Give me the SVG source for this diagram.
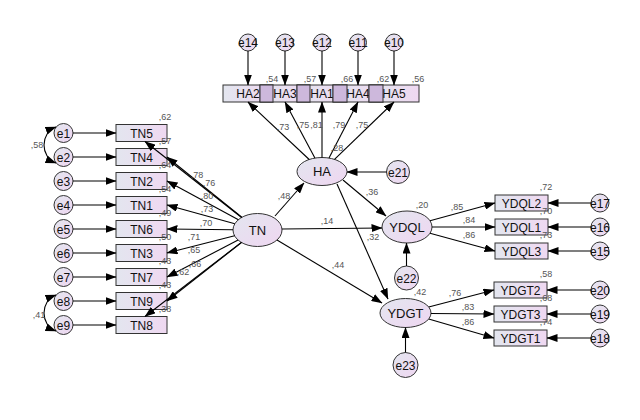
<svg xmlns="http://www.w3.org/2000/svg" width="640" height="420" viewBox="0 0 640 420">
<defs>
<linearGradient id="g" x1="0" y1="0" x2="1" y2="0">
<stop offset="0" stop-color="#e3e6ef"/><stop offset="1" stop-color="#efd8f1"/>
</linearGradient>
<linearGradient id="ge" x1="0" y1="0" x2="1" y2="1">
<stop offset="0" stop-color="#e3e6ef"/><stop offset="1" stop-color="#efd6f1"/>
</linearGradient>
<marker id="ah" markerUnits="userSpaceOnUse" markerWidth="11" markerHeight="8" refX="10.5" refY="4" orient="auto-start-reverse">
<path d="M0,0 L11,4 L0,8 z" fill="#000"/>
</marker>
<style>
.b{fill:url(#g);stroke:#333;stroke-width:1}
.o{fill:#cdb8dc;stroke:#333;stroke-width:1}
.e{fill:url(#ge);stroke:#333;stroke-width:1}
.t{font-family:"Liberation Sans",Arial,sans-serif;font-size:12px;fill:#111;text-anchor:middle}
.tl{font-family:"Liberation Sans",Arial,sans-serif;font-size:13px;fill:#111;text-anchor:middle}
.v{font-family:"Liberation Sans",Arial,sans-serif;font-size:9px;fill:#555;text-anchor:middle}
.c line,.c path{stroke:#000;stroke-width:1.1;fill:none;marker-end:url(#ah)}
.c path.cv{marker-start:url(#ah)}
</style>
</defs>
<rect width="640" height="420" fill="#fff"/>

<!-- TN indicator boxes -->
<g id="TN5"><rect class="b" x="116" y="124.5" width="51" height="17"/><text class="t" x="141.5" y="137.5">TN5</text></g>
<g id="TN4"><rect class="b" x="116" y="148.5" width="51" height="17"/><text class="t" x="141.5" y="161.5">TN4</text></g>
<g id="TN2"><rect class="b" x="116" y="172.5" width="51" height="17"/><text class="t" x="141.5" y="185.5">TN2</text></g>
<g id="TN1"><rect class="b" x="116" y="196.5" width="51" height="17"/><text class="t" x="141.5" y="209.5">TN1</text></g>
<g id="TN6"><rect class="b" x="116" y="220.5" width="51" height="17"/><text class="t" x="141.5" y="233.5">TN6</text></g>
<g id="TN3"><rect class="b" x="116" y="244.5" width="51" height="17"/><text class="t" x="141.5" y="257.5">TN3</text></g>
<g id="TN7"><rect class="b" x="116" y="268.5" width="51" height="17"/><text class="t" x="141.5" y="281.5">TN7</text></g>
<g id="TN9"><rect class="b" x="116" y="292.5" width="51" height="17"/><text class="t" x="141.5" y="305.5">TN9</text></g>
<g id="TN8"><rect class="b" x="116" y="316.5" width="51" height="17"/><text class="t" x="141.5" y="329.5">TN8</text></g>

<!-- left error terms -->
<g id="e1"><circle class="e" cx="63.5" cy="133" r="9.5"/><text class="t" x="63.5" y="137.5">e1</text></g>
<g id="e2"><circle class="e" cx="63.5" cy="157" r="9.5"/><text class="t" x="63.5" y="161.5">e2</text></g>
<g id="e3"><circle class="e" cx="63.5" cy="181" r="9.5"/><text class="t" x="63.5" y="185.5">e3</text></g>
<g id="e4"><circle class="e" cx="63.5" cy="205" r="9.5"/><text class="t" x="63.5" y="209.5">e4</text></g>
<g id="e5"><circle class="e" cx="63.5" cy="229" r="9.5"/><text class="t" x="63.5" y="233.5">e5</text></g>
<g id="e6"><circle class="e" cx="63.5" cy="253" r="9.5"/><text class="t" x="63.5" y="257.5">e6</text></g>
<g id="e7"><circle class="e" cx="63.5" cy="277" r="9.5"/><text class="t" x="63.5" y="281.5">e7</text></g>
<g id="e8"><circle class="e" cx="63.5" cy="301" r="9.5"/><text class="t" x="63.5" y="305.5">e8</text></g>
<g id="e9"><circle class="e" cx="63.5" cy="325" r="9.5"/><text class="t" x="63.5" y="329.5">e9</text></g>

<!-- HA indicator boxes -->
<g id="HA2"><rect class="b" x="223" y="85" width="50" height="17"/><text class="t" x="248" y="98">HA2</text></g>
<g id="HA3"><rect class="b" x="260" y="85" width="50" height="17"/><text class="t" x="285" y="98">HA3</text></g>
<g id="HA1"><rect class="b" x="297" y="85" width="50" height="17"/><text class="t" x="322" y="98">HA1</text></g>
<g id="HA4"><rect class="b" x="333" y="85" width="50" height="17"/><text class="t" x="358" y="98">HA4</text></g>
<g id="HA5"><rect class="b" x="369" y="85" width="50" height="17"/><text class="t" x="394" y="98">HA5</text></g>
<g id="HA-overlaps">
<rect class="o" x="260" y="85" width="13" height="17"/>
<rect class="o" x="297" y="85" width="13" height="17"/>
<rect class="o" x="333" y="85" width="14" height="17"/>
<rect class="o" x="369" y="85" width="14" height="17"/>
</g>

<!-- top error terms -->
<g id="e14"><circle class="e" cx="248" cy="42.5" r="8.5"/><text class="t" x="248" y="47">e14</text></g>
<g id="e13"><circle class="e" cx="285" cy="42.5" r="8.5"/><text class="t" x="285" y="47">e13</text></g>
<g id="e12"><circle class="e" cx="322" cy="42.5" r="8.5"/><text class="t" x="322" y="47">e12</text></g>
<g id="e11"><circle class="e" cx="358" cy="42.5" r="8.5"/><text class="t" x="358" y="47">e11</text></g>
<g id="e10"><circle class="e" cx="394" cy="42.5" r="8.5"/><text class="t" x="394" y="47">e10</text></g>

<!-- latent variables -->
<g id="TN"><ellipse class="e" cx="257.5" cy="230" rx="24.5" ry="16.5"/><text class="tl" x="257.5" y="234.5">TN</text></g>
<g id="HA"><ellipse class="e" cx="322" cy="171.5" rx="25" ry="14"/><text class="tl" x="322" y="176">HA</text></g>
<g id="YDQL"><ellipse class="e" cx="407" cy="227" rx="25" ry="16"/><text class="tl" x="407" y="231.5">YDQL</text></g>
<g id="YDGT"><ellipse class="e" cx="405.5" cy="313" rx="25.5" ry="14.5"/><text class="tl" x="405.5" y="317.5">YDGT</text></g>

<g id="e21"><circle class="e" cx="398" cy="172" r="11.5"/><text class="t" x="398" y="176.5">e21</text></g>
<g id="e22"><circle class="e" cx="406.5" cy="278" r="12"/><text class="t" x="406.5" y="282.5">e22</text></g>
<g id="e23"><circle class="e" cx="405.5" cy="365" r="12.5"/><text class="t" x="405.5" y="369.5">e23</text></g>

<!-- outcome indicators -->
<g id="YDQL2"><rect class="b" x="495" y="195" width="53" height="16"/><text class="t" x="521.5" y="207.5">YDQL2</text></g>
<g id="YDQL1"><rect class="b" x="495" y="219" width="53" height="16"/><text class="t" x="521.5" y="231.5">YDQL1</text></g>
<g id="YDQL3"><rect class="b" x="495" y="243" width="53" height="16"/><text class="t" x="521.5" y="255.5">YDQL3</text></g>
<g id="YDGT2"><rect class="b" x="494" y="282" width="53" height="16"/><text class="t" x="520.5" y="294.5">YDGT2</text></g>
<g id="YDGT3"><rect class="b" x="494" y="306" width="53" height="16"/><text class="t" x="520.5" y="318.5">YDGT3</text></g>
<g id="YDGT1"><rect class="b" x="494" y="330" width="53" height="16"/><text class="t" x="520.5" y="342.5">YDGT1</text></g>

<g id="e17"><circle class="e" cx="600" cy="203" r="9"/><text class="t" x="600" y="207.5">e17</text></g>
<g id="e16"><circle class="e" cx="600" cy="227" r="9"/><text class="t" x="600" y="231.5">e16</text></g>
<g id="e15"><circle class="e" cx="600" cy="251" r="9"/><text class="t" x="600" y="255.5">e15</text></g>
<g id="e20"><circle class="e" cx="600" cy="290" r="9"/><text class="t" x="600" y="294.5">e20</text></g>
<g id="e19"><circle class="e" cx="600" cy="314" r="9"/><text class="t" x="600" y="318.5">e19</text></g>
<g id="e18"><circle class="e" cx="600" cy="338" r="9"/><text class="t" x="600" y="342.5">e18</text></g>

<!-- connectors -->
<g id="connectors" class="c">
<line x1="73" y1="133" x2="116" y2="133"/>
<line x1="73" y1="157" x2="116" y2="157"/>
<line x1="73" y1="181" x2="116" y2="181"/>
<line x1="73" y1="205" x2="116" y2="205"/>
<line x1="73" y1="229" x2="116" y2="229"/>
<line x1="73" y1="253" x2="116" y2="253"/>
<line x1="73" y1="277" x2="116" y2="277"/>
<line x1="73" y1="301" x2="116" y2="301"/>
<line x1="73" y1="325" x2="116" y2="325"/>
<path class="cv" d="M56,127 C40,133 40,157 56,163"/>
<path class="cv" d="M56,295 C40,301 40,325 56,331"/>

<line x1="241.6" y1="217.5" x2="145" y2="141.5"/>
<line x1="241.8" y1="217.3" x2="167" y2="157"/>
<line x1="238.4" y1="219.7" x2="167" y2="181"/>
<line x1="234.8" y1="223.7" x2="167" y2="205"/>
<line x1="233" y1="229.7" x2="167" y2="229"/>
<line x1="234.6" y1="235.8" x2="167" y2="253"/>
<line x1="238.1" y1="240.1" x2="167" y2="277"/>
<line x1="241.5" y1="242.5" x2="167" y2="301"/>
<line x1="241.4" y1="242.4" x2="145" y2="316.5"/>

<line x1="248" y1="51" x2="248" y2="85"/>
<line x1="285" y1="51" x2="285" y2="85"/>
<line x1="322" y1="51" x2="322" y2="85"/>
<line x1="358" y1="51" x2="358" y2="85"/>
<line x1="394" y1="51" x2="394" y2="85"/>

<line x1="309.2" y1="159.5" x2="248" y2="102"/>
<line x1="314.9" y1="158.1" x2="285" y2="102"/>
<line x1="322" y1="157.5" x2="322" y2="102"/>
<line x1="329" y1="158.1" x2="358" y2="102"/>
<line x1="334.5" y1="159.4" x2="394" y2="102"/>

<line x1="275" y1="216" x2="304" y2="183"/>
<line x1="282" y1="229" x2="382" y2="228"/>
<line x1="277" y1="240" x2="382" y2="303"/>
<line x1="343" y1="180" x2="386" y2="216"/>
<line x1="337" y1="184" x2="388" y2="299"/>

<line x1="386.5" y1="172" x2="347" y2="172"/>
<line x1="406.5" y1="266" x2="406.5" y2="243"/>
<line x1="405.5" y1="352.5" x2="405.5" y2="327.5"/>

<line x1="430" y1="220.7" x2="495" y2="203"/>
<line x1="432" y1="227" x2="495" y2="227"/>
<line x1="430" y1="233.3" x2="495" y2="251"/>
<line x1="428.7" y1="307" x2="494" y2="290"/>
<line x1="431" y1="313.5" x2="494" y2="314"/>
<line x1="428.7" y1="319" x2="494" y2="338"/>

<line x1="591" y1="203" x2="548" y2="203"/>
<line x1="591" y1="227" x2="548" y2="227"/>
<line x1="591" y1="251" x2="548" y2="251"/>
<line x1="591" y1="290" x2="547" y2="290"/>
<line x1="591" y1="314" x2="547" y2="314"/>
<line x1="591" y1="338" x2="547" y2="338"/>
</g>

<!-- estimates -->
<g id="labels">
<text class="v" x="37" y="148">,58</text>
<text class="v" x="39" y="318">,41</text>
<text class="v" x="165" y="120">,62</text>
<text class="v" x="165" y="144">,57</text>
<text class="v" x="165" y="168">,64</text>
<text class="v" x="165" y="192">,54</text>
<text class="v" x="165" y="216">,49</text>
<text class="v" x="165" y="240">,50</text>
<text class="v" x="165" y="264">,43</text>
<text class="v" x="165" y="288">,43</text>
<text class="v" x="165" y="312">,38</text>
<text class="v" x="197" y="178">,78</text>
<text class="v" x="209" y="186">,76</text>
<text class="v" x="207" y="199">,80</text>
<text class="v" x="207" y="212">,73</text>
<text class="v" x="206" y="226">,70</text>
<text class="v" x="194" y="240">,71</text>
<text class="v" x="194" y="253">,65</text>
<text class="v" x="183" y="275">,62</text>
<text class="v" x="195" y="267">,66</text>
<text class="v" x="283" y="130">,73</text>
<text class="v" x="303" y="128">,75</text>
<text class="v" x="316.5" y="128">,81</text>
<text class="v" x="339" y="128">,79</text>
<text class="v" x="362" y="128">,75</text>
<text class="v" x="272" y="82">,54</text>
<text class="v" x="310" y="82">,57</text>
<text class="v" x="347" y="82">,66</text>
<text class="v" x="383" y="82">,62</text>
<text class="v" x="418" y="82">,56</text>
<text class="v" x="337" y="151">,28</text>
<text class="v" x="422" y="208">,20</text>
<text class="v" x="420" y="295">,42</text>
<text class="v" x="284" y="199">,48</text>
<text class="v" x="372" y="195">,36</text>
<text class="v" x="327" y="224">,14</text>
<text class="v" x="373" y="240">,32</text>
<text class="v" x="338" y="268">,44</text>
<text class="v" x="457" y="210">,85</text>
<text class="v" x="469" y="223">,84</text>
<text class="v" x="469" y="238">,86</text>
<text class="v" x="455" y="296">,76</text>
<text class="v" x="468" y="310">,83</text>
<text class="v" x="468" y="325">,86</text>
<text class="v" x="546" y="190">,72</text>
<text class="v" x="546" y="214">,70</text>
<text class="v" x="546" y="238">,73</text>
<text class="v" x="546" y="277">,58</text>
<text class="v" x="546" y="301">,68</text>
<text class="v" x="546" y="325">,74</text>
</g>
</svg>
